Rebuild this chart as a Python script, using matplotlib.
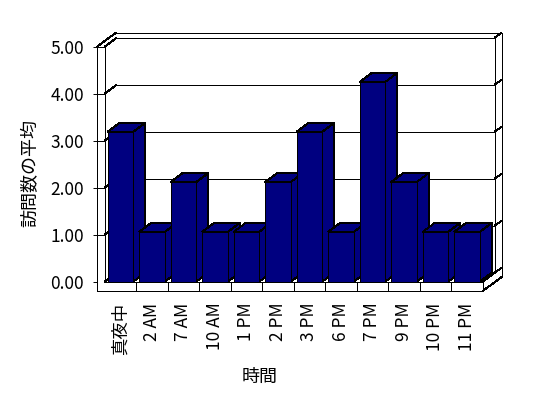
import matplotlib
matplotlib.use('Agg')
import matplotlib.pyplot as plt
from matplotlib.patches import Polygon

plt.rcParams['font.family'] = ['Noto Sans CJK JP', 'DejaVu Sans']

categories = ['真夜中', '2 AM', '7 AM', '10 AM', '1 PM', '2 PM', '3 PM',
              '6 PM', '7 PM', '9 PM', '10 PM', '11 PM']
values = [3.19, 1.06, 2.12, 1.06, 1.06, 2.12, 3.19, 1.06, 4.25, 2.12, 1.06, 1.06]
yticks = [0, 1, 2, 3, 4, 5]
ytick_labels = ['0.00', '1.00', '2.00', '3.00', '4.00', '5.00']
x_label = '時間'
y_label = '訪問数の平均'

BAR = '#000080'
W, H = 548, 398
fig = plt.figure(figsize=(W / 100, H / 100), dpi=100)
fig.patch.set_facecolor('white')

L, R, T, B = 104.7, 482.7, 46.7, 281.7
ax = fig.add_axes([L / W, 1 - B / H, (R - L) / W, (B - T) / H])
n = len(categories)
x0, x1 = -0.5, n - 0.5
ymax = yticks[-1]
ax.set_xlim(x0, x1)
ax.set_ylim(0, ymax)
ax.set_facecolor('none')

pxx = (R - L) / n
pxy = (B - T) / ymax
dx, dy = 12 / pxx, 9 / pxy      # depth of plot box
ex, ey = 7 / pxx, 5 / pxy       # wall thickness
wx = x0 - 7.7 / pxx             # outer edge of left wall
fb = -9.3 / pxy                 # bottom of floor slab
LW = 0.7


def seg(xs, ys, z=1):
    ax.plot(xs, ys, color='black', lw=LW, clip_on=False, zorder=z,
            solid_capstyle='butt', antialiased=False)


# back wall gridlines and top / bottom edges
for v in yticks:
    seg([x0 + dx, x1 + dx], [v + dy, v + dy])
    seg([x0, x0 + dx], [v, v + dy])
    seg([x1 + dx, x1 + dx + ex], [v + dy, v + dy + ey])

# left wall front edge face
seg([wx, wx], [fb, ymax])
seg([x0, x0], [0, ymax])
for v in yticks[1:]:
    seg([wx, x0], [v, v])
# top of left wall and back wall outer top edge
seg([wx, wx + dx + ex], [ymax, ymax + dy + ey])
seg([wx + dx + ex, x1 + dx + ex], [ymax + dy + ey, ymax + dy + ey])
# right side of back wall
seg([x1 + dx, x1 + dx], [dy, ymax + dy])
seg([x1 + dx + ex, x1 + dx + ex], [fb + dy + ey, ymax + dy + ey])

# floor slab
seg([wx, x1], [fb, fb])
seg([x0, x1], [0, 0])
seg([x1, x1], [fb, 0])
for k in range(1, n):
    seg([k - 0.5, k - 0.5], [fb, 0])
seg([x1, x1 + dx], [0, dy])
seg([x1, x1 + dx + ex], [fb, fb + dy + ey])

# bars (3D)
bw = 25.6 / pxx
fronts = ax.bar(range(n), values, width=bw, color=BAR, edgecolor='black',
                linewidth=LW, clip_on=False)
for i, (rect, v) in enumerate(zip(fronts, values)):
    zb = 10 + 3 * i
    xl, xr = i - bw / 2, i + bw / 2
    side = Polygon([(xr, 0), (xr + dx, dy), (xr + dx, v + dy), (xr, v)],
                   closed=True, fc=BAR, ec='black', lw=LW, zorder=zb,
                   clip_on=False, antialiased=False)
    top = Polygon([(xl, v), (xr, v), (xr + dx, v + dy), (xl + dx, v + dy)],
                  closed=True, fc=BAR, ec='black', lw=LW, zorder=zb + 1,
                  clip_on=False, antialiased=False)
    ax.add_patch(side)
    ax.add_patch(top)
    rect.set_zorder(zb + 2)
    rect.set_antialiased(False)

# axes / ticks
for s in ax.spines.values():
    s.set_visible(False)
ax.spines['left'].set_position(('outward', 7.7 * 0.72))
ax.set_yticks(yticks)
ax.set_yticklabels(ytick_labels)
ax.tick_params(axis='y', direction='out', length=4 * 0.72, width=LW,
               pad=6.5, labelsize=12.5, color='black')
ax.set_xticks(range(n))
ax.set_xticklabels(categories, rotation=90, va='top', ha='center')
ax.tick_params(axis='x', length=0, pad=15, labelsize=12.5)

fig.text(30 / W, 1 - 173 / H, y_label, rotation=90, ha='center', va='center',
         fontsize=13)
fig.text(260 / W, 1 - 377 / H, x_label, ha='center', va='center', fontsize=13)

fig.savefig('out.png', dpi=100, facecolor='white')
